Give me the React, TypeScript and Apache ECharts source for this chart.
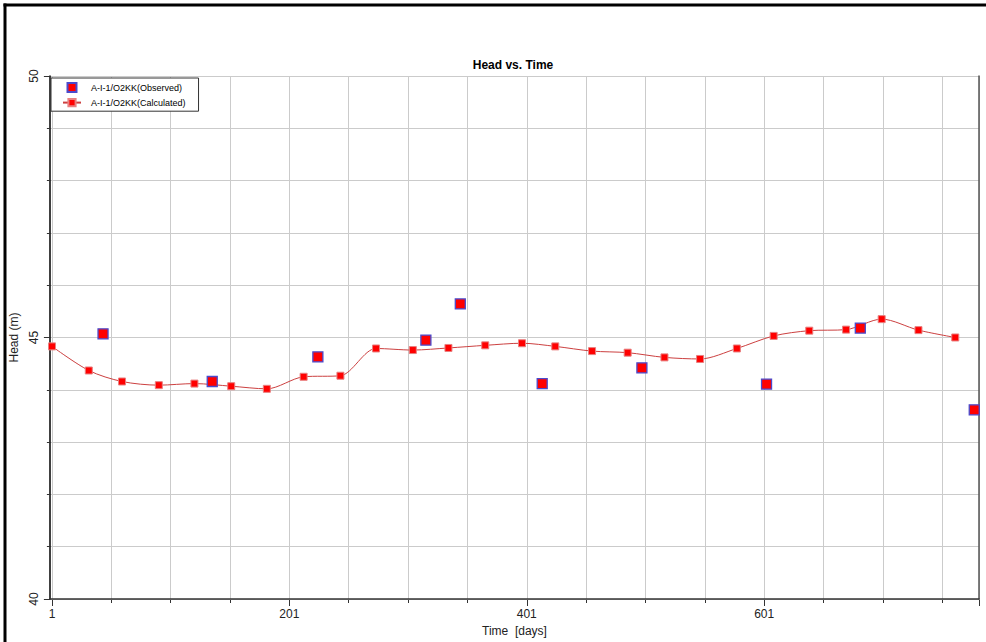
import React, { useEffect, useRef } from 'react';
import * as echarts from 'echarts';

const calcDays = [1, 32, 60, 91, 121, 152, 182, 213, 244, 274, 305, 335, 366, 397, 425, 456, 486, 517, 547, 578, 609, 639, 670, 700, 731, 762];
const calcHead = [44.84, 44.38, 44.17, 44.10, 44.13, 44.08, 44.03, 44.26, 44.28, 44.80, 44.77, 44.81, 44.86, 44.90, 44.84, 44.75, 44.72, 44.63, 44.60, 44.80, 45.04, 45.14, 45.16, 45.36, 45.15, 45.01];
const obsDays = [44, 136, 225, 316, 345, 414, 498, 603, 682, 778];
const obsHead = [45.08, 44.17, 44.64, 44.96, 45.65, 44.13, 44.43, 44.12, 45.19, 43.63];
const yTickLabels = [40, 45, 50];
const xTickLabels = [1, 201, 401, 601];

const OBS = 'A-I-1/O2KK(Observed)';
const CALC = 'A-I-1/O2KK(Calculated)';
const FONT = '"Liberation Sans", Arial, sans-serif';

export default function App() {
  const ref = useRef<HTMLDivElement>(null);
  useEffect(() => {
    if (!ref.current) return;
    const chart = echarts.init(ref.current, undefined, { renderer: 'svg' });
    const grid = { top: 76, bottom: 42, right: 7 };
    chart.setOption({
      animation: false,
      backgroundColor: '#fff',
      textStyle: { fontFamily: FONT },
      title: {
        text: 'Head vs. Time',
        left: 513,
        top: 59,
        textAlign: 'center',
        padding: 0,
        textStyle: { fontSize: 12, fontWeight: 'bold', color: '#000', fontFamily: FONT },
      },
      legend: {
        left: 51,
        top: 78,
        orient: 'vertical',
        backgroundColor: '#fff',
        borderColor: '#333',
        borderWidth: 1,
        borderRadius: 0,
        padding: [4, 13, 4, 11],
        itemGap: 5,
        itemWidth: 18,
        itemHeight: 9,
        textStyle: { fontSize: 9, color: '#000', fontFamily: FONT, padding: [0, 0, 0, 5] },
        data: [
          { name: OBS, icon: 'path://M0,4.5L0,4.5M4.5,0h9v9h-9zM18,4.5L18,4.5' },
          { name: CALC },
        ],
      },
      grid: [
        { left: 47, ...grid },
        { left: 52, ...grid },
      ],
      xAxis: [
        {
          gridIndex: 0,
          type: 'value',
          position: 'bottom',
          min: 0,
          max: 1,
          axisLine: { show: true, lineStyle: { color: '#333', width: 1.5 } },
          axisTick: { show: false },
          axisLabel: { show: false },
          splitLine: { show: false },
          name: 'Time  [days]',
          nameLocation: 'middle',
          nameGap: 26,
          nameTextStyle: { fontSize: 12, color: '#222', fontFamily: FONT },
        },
        {
          gridIndex: 1,
          type: 'value',
          position: 'bottom',
          min: 1,
          max: 782,
          interval: 50,
          axisLine: { show: false },
          axisTick: { show: true, length: 3, lineStyle: { color: '#333' } },
          axisLabel: {
            show: true,
            margin: 8,
            fontSize: 12,
            color: '#222',
            fontFamily: FONT,
            showMaxLabel: false,
            formatter: (v: number) => (xTickLabels.includes(v) ? String(v) : ''),
          },
          splitLine: { show: true, lineStyle: { color: '#cbcbcb', width: 1 } },
        },
        {
          gridIndex: 1,
          type: 'value',
          position: 'bottom',
          offset: 0,
          min: 1,
          max: 782,
          interval: 200,
          axisLine: { show: false },
          axisTick: { show: true, length: 6, lineStyle: { color: '#333' } },
          axisLabel: { show: false },
          splitLine: { show: false },
        },
      ],
      yAxis: [
        {
          gridIndex: 0,
          type: 'value',
          position: 'left',
          min: 40,
          max: 50,
          interval: 1,
          axisLine: { show: true, lineStyle: { color: '#000', width: 1.5 } },
          axisTick: { show: true, length: 3, lineStyle: { color: '#333' } },
          axisLabel: {
            show: true,
            rotate: 90,
            margin: 10,
            fontSize: 12,
            color: '#222',
            fontFamily: FONT,
            formatter: (v: number) => (yTickLabels.includes(v) ? String(v) : ''),
          },
          splitLine: { show: true, lineStyle: { color: '#cbcbcb', width: 1 } },
          name: 'Head (m)',
          nameLocation: 'middle',
          nameRotate: 90,
          nameGap: 25,
          nameTextStyle: { fontSize: 12, color: '#222', fontFamily: FONT },
        },
        {
          gridIndex: 0,
          type: 'value',
          position: 'left',
          offset: 0,
          min: 40,
          max: 50,
          interval: 5,
          axisLine: { show: false },
          axisTick: { show: true, length: 6, lineStyle: { color: '#333' } },
          axisLabel: { show: false },
          splitLine: { show: false },
        },
        {
          gridIndex: 0,
          type: 'value',
          position: 'right',
          min: 40,
          max: 50,
          axisLine: { show: true, lineStyle: { color: '#555', width: 1.5 } },
          axisTick: { show: false },
          axisLabel: { show: false },
          splitLine: { show: false },
        },
        {
          gridIndex: 1,
          type: 'value',
          min: 40,
          max: 50,
          show: false,
        },
      ],
      series: [
        {
          name: OBS,
          type: 'scatter',
          xAxisIndex: 1,
          yAxisIndex: 3,
          symbol: 'rect',
          symbolSize: 10,
          z: 4,
          itemStyle: { color: '#ff0000', borderColor: '#4a4acc', borderWidth: 1.3, opacity: 1 },
          data: obsDays.map((d, i) => [d, obsHead[i]]),
        },
        {
          name: CALC,
          type: 'line',
          xAxisIndex: 1,
          yAxisIndex: 3,
          symbol: 'rect',
          symbolSize: 7,
          showAllSymbol: true,
          smooth: 0.3,
          z: 3,
          lineStyle: { color: '#cc4040', width: 1 },
          itemStyle: { color: '#ff0000', borderColor: '#e88080', borderWidth: 1 },
          data: calcDays.map((d, i) => [d, calcHead[i]]),
        },
      ],
      graphic: [
        {
          type: 'line',
          shape: { x1: 5, y1: 3.5, x2: 5, y2: 642 },
          style: { stroke: '#000', lineWidth: 3 },
          silent: true,
          z: 100,
        },
        {
          type: 'line',
          shape: { x1: 3.5, y1: 5, x2: 986, y2: 5 },
          style: { stroke: '#000', lineWidth: 3 },
          silent: true,
          z: 100,
        },
      ],
    });
    return () => chart.dispose();
  }, []);
  return (
    <div
      ref={ref}
      style={{ position: 'fixed', left: 0, top: 0, width: 986, height: 642, background: '#fff' }}
    />
  );
}
